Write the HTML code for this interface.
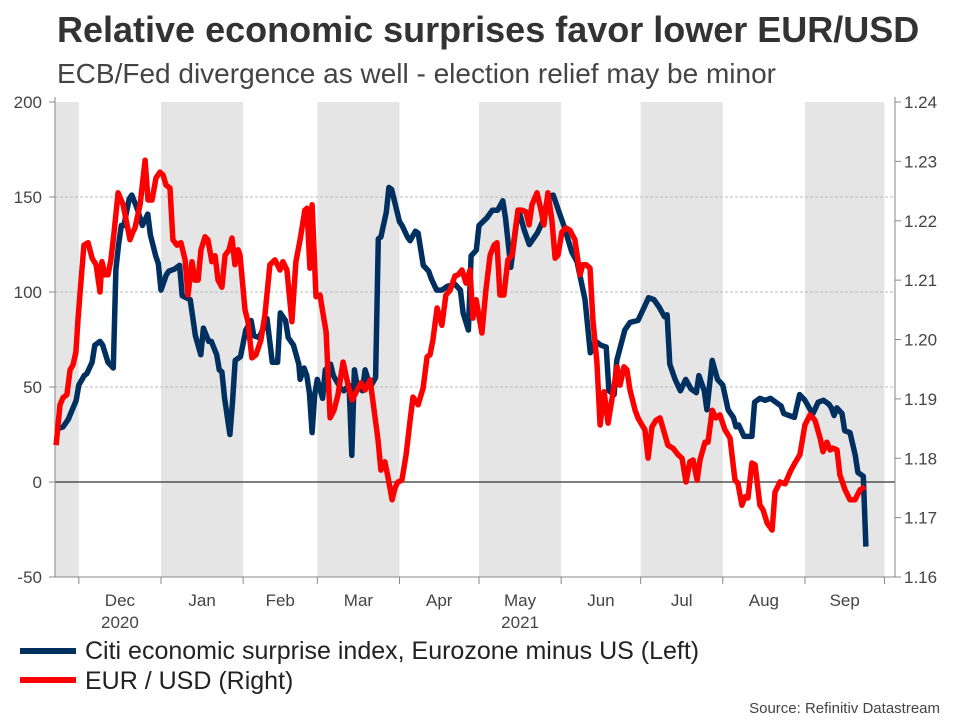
<!DOCTYPE html>
<html><head><meta charset="utf-8"><style>
body{margin:0;background:#fff;font-family:"Liberation Sans",Arial,sans-serif;}
svg text{font-family:"Liberation Sans",Arial,sans-serif;}
</style></head><body>
<svg id="c" width="960" height="720" xmlns="http://www.w3.org/2000/svg">
<text x="57" y="42" font-size="36" font-weight="bold" fill="#333">Relative economic surprises favor lower EUR/USD</text>
<text x="57" y="83" font-size="28" fill="#444">ECB/Fed divergence as well - election relief may be minor</text>
<g id="bands"></g><g id="grid"></g><g id="axes"></g><g id="lines"></g>
<g>
<line x1="20" y1="651" x2="76" y2="651" stroke="#00305f" stroke-width="6"/>
<text x="85" y="659" font-size="25" fill="#222">Citi economic surprise index, Eurozone minus US (Left)</text>
<line x1="20" y1="680" x2="76" y2="680" stroke="#ff0000" stroke-width="6"/>
<text x="85" y="689" font-size="25" fill="#222">EUR / USD (Right)</text>
</g>
<text x="940" y="713" font-size="15" fill="#444" text-anchor="end">Source: Refinitiv Datastream</text>
</svg>
<script>
const monthLabels=["Dec","Jan","Feb","Mar","Apr","May","Jun","Jul","Aug","Sep"];
const monthStartDays=[9,40,71,99,130,160,191,221,252,283,313];
const leftTicks=[-50,0,50,100,150,200];
const rightTicks=[1.16,1.17,1.18,1.19,1.20,1.21,1.22,1.23,1.24];
const surpriseDays=[1,3,5,8,9,11,12,14,15,17,18,20,22,23,24,25,26,28,29,31,33,35,36,38,39,40,42,43,45,47,48,51,53,55,56,58,59,61,62,63,64,66,67,68,70,72,74,75,77,79,80,82,84,85,87,88,90,92,92.5,94,95,96,97,98,99,101,102,104,105,108,109,111,112,113,114,116,117,119,121,122,123,125,126,127,130,131,133,134,136,137,139,141,142,144,146,148,151,153,154,156,157,159,160,163,165,167,169,170,172,174,175,177,179,182,184,186,188,191,192,195,197,200,202,204,206,208,209,211,212,215,217,220,222,224,226,228,230,231,232,234,236,238,240,242,243,245,246,248,250,252,254,256,257,258,260,262,263,264,266,268,270,272,274,275,277,279,281,283,285,286,288,290,292,293,294,295,297,298,300,302,303,305,306];
const surpriseValues=[28,29,33,43,51,56,57,63,72,74,72,63,60,112,125,135,135,149,151,144,135,141,130,119,115,101,109,111,112,114,98,96,77,67,81,74,74,67,59,58,44,25,42,64,66,80,85,77,76,82,86,63,63,89,85,76,72,62,54,60,56,47,26,46,54,44,59,62,56,49,48,51,14,59,51,48,59,50,55,128,129,142,155,154,137,135,129,127,132,131,114,111,107,101,101,103,104,101,89,80,119,122,135,139,143,143,148,139,113,135,143,133,125,131,137,150,151,139,135,121,116,96,68,74,72,71,48,46,64,80,84,85,91,97,96,92,87,88,62,54,48,54,49,47,56,48,38,64,54,51,38,34,29,30,24,24,24,42,44,43,44,42,40,36,35,34,46,43,38,36,42,43,41,39,35,39,36,27,26,14,5,3,-34];
const eurDays=[0.4,1.9,3.0,4.5,5.7,6.8,7.9,8.7,9.4,10.9,12.5,14.0,15.5,17.0,17.7,18.9,20.0,21.1,22.3,23.8,25.7,27.2,28.3,29.4,30.2,32.1,34.0,35.1,36.6,38.1,39.6,40.8,41.9,43.4,44.5,46.0,47.5,49.1,50.2,51.7,52.8,54.0,55.1,56.6,57.7,59.2,60.4,61.5,63.0,64.2,65.7,66.8,67.9,69.1,69.8,71.7,72.8,74.3,75.8,77.7,79.2,81.1,83.0,84.9,86.0,87.5,89.4,90.9,92.5,94.3,95.1,96.2,97.0,98.5,100.0,101.1,102.3,103.8,105.3,106.8,108.7,110.6,112.1,114.0,115.5,117.0,118.9,120.4,121.9,123.0,124.5,125.7,127.2,128.3,129.4,130.9,132.5,134.0,135.1,137.0,138.9,140.4,141.5,142.6,144.2,146.0,147.5,149.1,150.9,152.1,153.6,155.1,156.6,157.7,158.9,161.1,162.6,164.2,165.7,166.8,167.9,169.4,170.9,172.5,173.6,174.7,176.2,177.7,178.9,180.0,181.9,183.4,184.5,186.0,187.5,188.7,189.8,191.3,192.8,194.3,196.2,198.1,199.2,200.4,201.9,203.0,204.5,205.7,207.2,208.7,210.6,212.1,213.2,214.7,215.8,217.0,218.9,220.0,221.5,222.6,223.8,225.3,226.8,228.3,231.3,233.2,235.1,236.6,238.1,239.6,240.8,242.3,243.4,245.3,246.4,248.0,249.4,250.9,252.8,254.7,256.6,257.7,259.2,260.4,261.5,263.0,264.2,266.0,267.2,268.7,270.6,271.7,273.6,275.5,277.4,279.2,281.1,283.0,284.9,286.8,288.7,289.8,291.3,292.5,293.6,295.1,296.2,298.1,300.0,301.9,303.8,305.7];
const eurValues=[1.1822,1.1890,1.1902,1.1907,1.1949,1.1957,1.1979,1.2036,1.2075,1.2159,1.2163,1.2137,1.2126,1.2080,1.2131,1.2109,1.2109,1.2134,1.2181,1.2247,1.2227,1.2193,1.2168,1.2181,1.2188,1.2227,1.2302,1.2235,1.2235,1.2272,1.2282,1.2277,1.2260,1.2255,1.2168,1.2159,1.2163,1.2134,1.2075,1.2131,1.2100,1.2100,1.2151,1.2173,1.2168,1.2131,1.2141,1.2100,1.2088,1.2142,1.2151,1.2171,1.2126,1.2151,1.2142,1.2050,1.2030,1.1969,1.1974,1.1999,1.2041,1.2126,1.2134,1.2117,1.2131,1.2117,1.2030,1.2131,1.2168,1.2218,1.2221,1.2120,1.2227,1.2072,1.2075,1.2045,1.2013,1.1868,1.1881,1.1907,1.1962,1.1923,1.1898,1.1915,1.1927,1.1915,1.1932,1.1881,1.1831,1.1780,1.1794,1.1767,1.1730,1.1750,1.1760,1.1763,1.1806,1.1864,1.1903,1.1890,1.1918,1.1971,1.1974,1.1999,1.2053,1.2024,1.2075,1.2083,1.2107,1.2109,1.2117,1.2095,1.2117,1.2036,1.2067,1.2011,1.2083,1.2142,1.2159,1.2163,1.2075,1.2075,1.2134,1.2142,1.2181,1.2218,1.2218,1.2215,1.2193,1.2227,1.2247,1.2218,1.2193,1.2247,1.2201,1.2137,1.2142,1.2181,1.2188,1.2184,1.2168,1.2109,1.2126,1.2126,1.2120,1.2033,1.1962,1.1856,1.1912,1.1859,1.1912,1.1954,1.1923,1.1954,1.1949,1.1915,1.1881,1.1868,1.1856,1.1848,1.1800,1.1853,1.1864,1.1868,1.1822,1.1817,1.1806,1.1800,1.1760,1.1794,1.1797,1.1763,1.1797,1.1827,1.1827,1.1881,1.1868,1.1873,1.1848,1.1834,1.1763,1.1758,1.1721,1.1735,1.1733,1.1792,1.1789,1.1721,1.1713,1.1691,1.1679,1.1743,1.1760,1.1757,1.1777,1.1792,1.1806,1.1856,1.1873,1.1864,1.1834,1.1811,1.1827,1.1814,1.1817,1.1814,1.1772,1.1747,1.1730,1.1730,1.1747,1.1752];

const NS="http://www.w3.org/2000/svg";
const X0=55,X1=895,Y0=102,Y1=577;
function xs(d){return X0+d*2.65;}
function yl(v){return Y1-(v-(-50))/250*(Y1-Y0);}
function yr(v){return Y1-(v-1.16)/0.08*(Y1-Y0);}
function mk(tag,attrs,parent){const e=document.createElementNS(NS,tag);for(const k in attrs)e.setAttribute(k,attrs[k]);parent.appendChild(e);return e;}
const bands=document.getElementById('bands'),grid=document.getElementById('grid'),axes=document.getElementById('axes'),lines=document.getElementById('lines');
const bandEdges=[0].concat(monthStartDays);
for(let i=0;i<bandEdges.length-1;i+=2){
  const a=xs(bandEdges[i]),b=Math.min(xs(bandEdges[i+1]),X1);
  const r=mk('rect',{x:a,y:Y0,width:b-a,height:Y1-Y0,fill:'#e5e5e5'},bands);
  
  
}
leftTicks.forEach(v=>{
  const y=yl(v);
  if(v>-50&&v<200&&v!==0){const g=mk('line',{x1:X0,x2:X1,y1:y,y2:y,stroke:'#bbb','stroke-dasharray':'3,2','stroke-width':1},grid);
  
  }
  mk('line',{x1:X0-6,x2:X0,y1:y,y2:y,stroke:'#888'},axes);
  const t=mk('text',{x:42,y:y+6,'font-size':17,fill:'#444','text-anchor':'end'},axes);t.textContent=v;
  
  
});
rightTicks.forEach(v=>{
  const y=yr(v);
  mk('line',{x1:X1,x2:X1+6,y1:y,y2:y,stroke:'#888'},axes);
  const t=mk('text',{x:904,y:y+6,'font-size':17,fill:'#444'},axes);t.textContent=v.toFixed(2);
  
  
});
const zl=mk('line',{x1:X0,x2:X1,y1:yl(0),y2:yl(0),stroke:'#333','stroke-width':1.2},axes);


mk('line',{x1:X0,x2:X0,y1:Y0-5,y2:Y1,stroke:'#888'},axes);
mk('line',{x1:X1,x2:X1,y1:Y0-5,y2:Y1,stroke:'#888'},axes);
mk('line',{x1:X0,x2:X1,y1:Y1,y2:Y1,stroke:'#888'},axes);
monthStartDays.forEach(d=>{mk('line',{x1:xs(d),x2:xs(d),y1:Y1,y2:Y1+7,stroke:'#888'},axes);});
monthLabels.forEach((m,i)=>{
  const cx=(xs(monthStartDays[i])+xs(monthStartDays[i+1]))/2;
  const t=mk('text',{x:cx,y:606,'font-size':17,fill:'#444','text-anchor':'middle'},axes);t.textContent=m;
  
  
});
[["2020",0],["2021",5]].forEach(([y,i])=>{
  const cx=(xs(monthStartDays[i])+xs(monthStartDays[i+1]))/2;
  const t=mk('text',{x:cx,y:628,'font-size':17,fill:'#444','text-anchor':'middle'},axes);t.textContent=y;
  
  
});
function path(days,vals,yf,color,name){
  const d=days.map((dd,i)=>(i?'L':'M')+xs(dd).toFixed(1)+','+yf(vals[i]).toFixed(1)).join('');
  const p=mk('path',{d:d,fill:'none',stroke:color,'stroke-width':5.5,'stroke-linejoin':'round'},lines);
  
  
}
path(surpriseDays,surpriseValues,yl,'#00305f','surprise-index-line');
path(eurDays,eurValues,yr,'#ff0000','eurusd-line');
</script>
</body></html>
